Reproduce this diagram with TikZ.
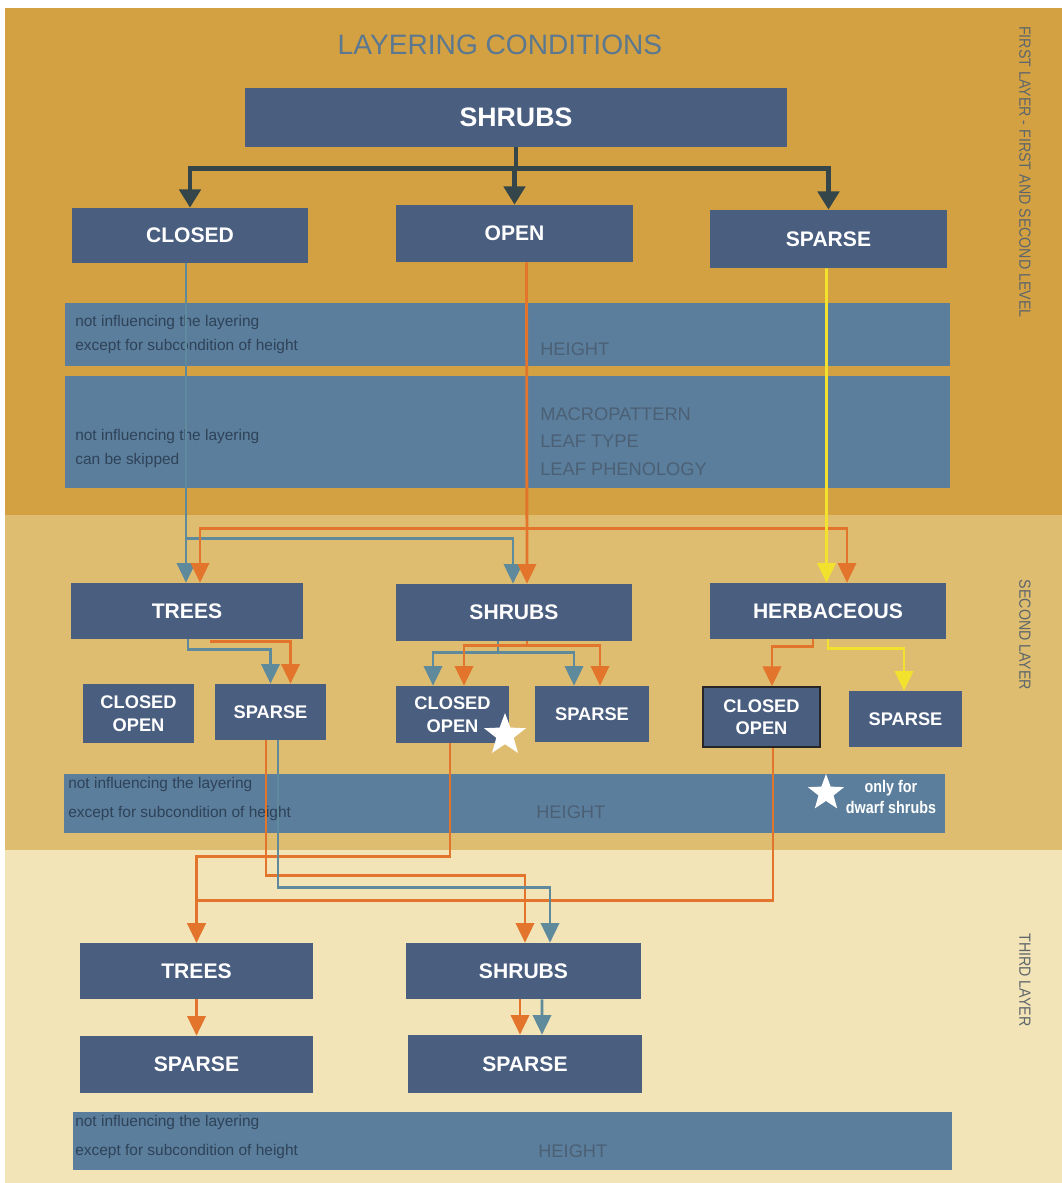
\documentclass[tikz,border=0pt]{standalone}
\usepackage{fontspec}
\setmainfont{Liberation Sans}
\newfontfamily\sidefont[FakeStretch=0.88]{Liberation Sans}
\newfontfamily\starfont[FakeStretch=0.85]{Liberation Sans}
\usetikzlibrary{arrows.meta,calc,shapes.geometric}
\definecolor{bandone}{HTML}{D3A142}
\definecolor{bandtwo}{HTML}{DFBD70}
\definecolor{bandthree}{HTML}{F3E4B8}
\definecolor{boxblue}{HTML}{4A5E80}
\definecolor{barblue}{HTML}{5B7E9C}
\definecolor{darkline}{HTML}{34464A}
\definecolor{orangeline}{HTML}{E2742C}
\definecolor{blueline}{HTML}{5E8A9C}
\definecolor{yellowline}{HTML}{F2E22E}
\definecolor{titleblue}{HTML}{5B7890}
\definecolor{notetext}{HTML}{2E4258}
\definecolor{condtext}{HTML}{4B6075}
\definecolor{sidegrey}{HTML}{5E666A}
\begin{document}
\begin{tikzpicture}[x=0.025cm,y=-0.025cm,
  box/.style={fill=boxblue,text=white,inner sep=0pt,align=center,font=\bfseries\fontsize{15}{17}\selectfont},
  mainbox/.style={box,minimum width=5.9cm,minimum height=1.4cm},
  subbox/.style={box,minimum width=2.8cm,minimum height=1.42cm,font=\bfseries\fontsize{13}{16}\selectfont},
  barbox/.style={fill=barblue,inner sep=0pt,minimum width=22.1cm},
  note/.style={anchor=west,align=left,inner sep=0pt,text=notetext,font=\fontsize{11}{17}\selectfont},
  cond/.style={anchor=west,align=left,inner sep=0pt,text=condtext,font=\fontsize{13}{19.5}\selectfont},
  sidelabel/.style={rotate=-90,text=sidegrey,font=\sidefont\fontsize{11.5}{14}\selectfont},
  dk/.style={draw=darkline,line width=3.2pt,-{Triangle[width=15pt,length=13pt]}},
  orln/.style={draw=orangeline,line width=2pt,-{Triangle[width=13pt,length=14pt]}},
  blln/.style={draw=blueline,line width=2pt,-{Triangle[width=13pt,length=14pt]}},
  ylln/.style={draw=yellowline,line width=2pt,-{Triangle[width=13pt,length=14pt]}},
  starmark/.style={star,star points=5,star point ratio=2.4,fill=white,inner sep=0pt}]
\useasboundingbox (0,0) rectangle (1062,1183);
% Bands
\path[fill=white] (0,0) rectangle (1062,1183);
\path[fill=bandone] (5,8) rectangle (1062,515);
\path[fill=bandtwo] (5,515) rectangle (1062,850);
\path[fill=bandthree] (5,850) rectangle (1062,1183);
\node[sidelabel] (sideone) at (1025,172) {FIRST LAYER - FIRST AND SECOND LEVEL};
\node[sidelabel] (sidetwo) at (1025,635) {SECOND LAYER};
\node[sidelabel] (sidethree) at (1025,980) {THIRD LAYER};
\node[text=titleblue,font=\fontsize{20}{22}\selectfont] (title) at (500,45) {LAYERING CONDITIONS};
% First layer
\node[box,minimum width=13.55cm,minimum height=1.475cm,font=\bfseries\fontsize{19}{21}\selectfont] (shrubsA) at (516,117.5) {SHRUBS};
\node[mainbox,minimum height=1.375cm] (closedA) at (190,235.5) {CLOSED};
\node[mainbox,minimum height=1.425cm] (openA) at (514.5,233.5) {OPEN};
\node[mainbox,minimum height=1.45cm] (sparseA) at (828.5,239) {SPARSE};
\node[barbox,minimum height=1.575cm] (barA) at (507.5,334.5) {};
\node[barbox,minimum height=2.8cm] (barB) at (507.5,432) {};
\node[note] (noteA) at (75,334.5) {not influencing the layering\\except for subcondition of height};
\node[cond] (heightA) at (540,349) {HEIGHT};
\node[note] (noteB) at (75,448.5) {not influencing the layering\\can be skipped};
\node[cond] (macro) at (540,441.5) {MACROPATTERN\\LEAF TYPE\\LEAF PHENOLOGY};
% Second layer
\node[mainbox,minimum width=5.8cm] (treesB) at (187,611) {TREES};
\node[mainbox,minimum height=1.425cm] (shrubsB) at (514,612.5) {SHRUBS};
\node[mainbox] (herbB) at (828,611) {HERBACEOUS};
\node[subbox,minimum width=2.775cm,minimum height=1.475cm] (coA) at (138.5,713.5) {CLOSED\\OPEN};
\node[subbox,minimum width=2.775cm,minimum height=1.4cm] (spA) at (270.5,712) {SPARSE};
\node[subbox,minimum width=2.825cm,minimum height=1.425cm] (coB) at (452.5,714.5) {CLOSED\\OPEN};
\node[subbox,minimum width=2.85cm,minimum height=1.4cm] (spB) at (592,714) {SPARSE};
\node[subbox,draw=black!85,line width=1.2pt,minimum width=2.925cm,minimum height=1.5cm] (coC) at (761.5,717) {CLOSED\\OPEN};
\node[subbox,minimum width=2.825cm,minimum height=1.4cm] (spC) at (905.5,719) {SPARSE};
\node[starmark,minimum size=1.1cm] (starA) at (505,735) {};
\node[barbox,minimum width=22.025cm,minimum height=1.475cm] (barC) at (504.5,803.5) {};
\node[note,font=\fontsize{11}{20}\selectfont] (noteC) at (68,799) {not influencing the layering\\except for subcondition of height};
\node[cond] (heightB) at (536,812) {HEIGHT};
\node[starmark,minimum size=0.95cm] (starB) at (826,793) {};
\node[text=white,align=center,inner sep=0pt,font=\starfont\bfseries\fontsize{12}{15}\selectfont] (dwarf) at (891,797) {only for\\dwarf shrubs};
% Third layer
\node[mainbox,minimum width=5.825cm] (treesC) at (196.5,971) {TREES};
\node[mainbox,minimum width=5.875cm] (shrubsC) at (523.5,971) {SHRUBS};
\node[mainbox,minimum width=5.825cm,minimum height=1.425cm] (spD) at (196.5,1064.5) {SPARSE};
\node[mainbox,minimum width=5.85cm,minimum height=1.45cm] (spE) at (525,1064) {SPARSE};
\node[barbox,minimum width=21.975cm,minimum height=1.45cm] (barD) at (512.5,1141) {};
\node[note,font=\fontsize{11}{20}\selectfont] (noteD) at (75,1137) {not influencing the layering\\except for subcondition of height};
\node[cond] (heightC) at (538,1151) {HEIGHT};
% Connectors, first layer
\path[draw,darkline,line width=3.2pt] (shrubsA.south) -- ++(0,21);
\path[dk] ($(shrubsA.south)+(0,21)$) -| (closedA.north);
\path[dk] ($(shrubsA.south)+(0,21)$) -| (openA.north);
\path[dk] ($(shrubsA.south)+(0,21)$) -| (sparseA.north);
\path[blln] ($(closedA.south)+(-4,0)$) -- ($(treesB.north)+(-1,0)$);
\path[blln] ($(closedA.south)+(-4,275)$) -| ($(shrubsB.north)+(-1,0)$);
\path[orln] ($(openA.south)+(12,0)$) -- ($(shrubsB.north)+(13,0)$);
\path[orln] ($(openA.south)+(12,266)$) -| ($(treesB.north)+(13,0)$);
\path[orln] ($(openA.south)+(12,266)$) -| ($(herbB.north)+(19,0)$);
\path[ylln] ($(sparseA.south)+(-2,0)$) -- ($(herbB.north)+(-1.5,0)$);
% Connectors, second layer
\path[blln] ($(treesB.south)+(1,0)$) -- ++(0,10) -| (spA.north);
\path[orln] ($(treesB.south)+(23,2)$) -| ($(spA.north)+(20,0)$);
\path[blln] ($(shrubsB.south)+(-16,0)$) -- ++(0,11) -| ($(coB.north)+(-19.5,0)$);
\path[blln] ($(shrubsB.south)+(-16,11)$) -| ($(spB.north)+(-18,0)$);
\path[orln] ($(shrubsB.south)+(13,0)$) -- ++(0,4) -| ($(coB.north)+(11.5,0)$);
\path[orln] ($(shrubsB.south)+(13,4)$) -| ($(spB.north)+(8,0)$);
\path[orln] ($(herbB.south)+(-15,0)$) -- ++(0,7) -| ($(coC.north)+(10.5,0)$);
\path[ylln] (herbB.south) -- ++(0,9) -| ($(spC.north)+(-1.5,0)$);
% Connectors, second to third layer
\path[orln] ($(coC.south)+(11.5,0)$) -- ++(0,153) -| (treesC.north);
\path[orln] ($(coB.south)+(-2.5,0)$) -- ++(0,113) -| (treesC.north);
\path[orln] ($(spA.south)+(-4.5,0)$) -- ++(0,135) -| ($(shrubsC.north)+(1.5,0)$);
\path[blln] ($(spA.south)+(7.5,0)$) -- ++(0,147) -| ($(shrubsC.north)+(26.5,0)$);
% Connectors, third layer
\path[orln] (treesC.south) -- (spD.north);
\path[orln] ($(shrubsC.south)+(-3.5,0)$) -- ($(spE.north)+(-5,0)$);
\path[blln] ($(shrubsC.south)+(18.5,0)$) -- ($(spE.north)+(17,0)$);
\end{tikzpicture}
\end{document}
